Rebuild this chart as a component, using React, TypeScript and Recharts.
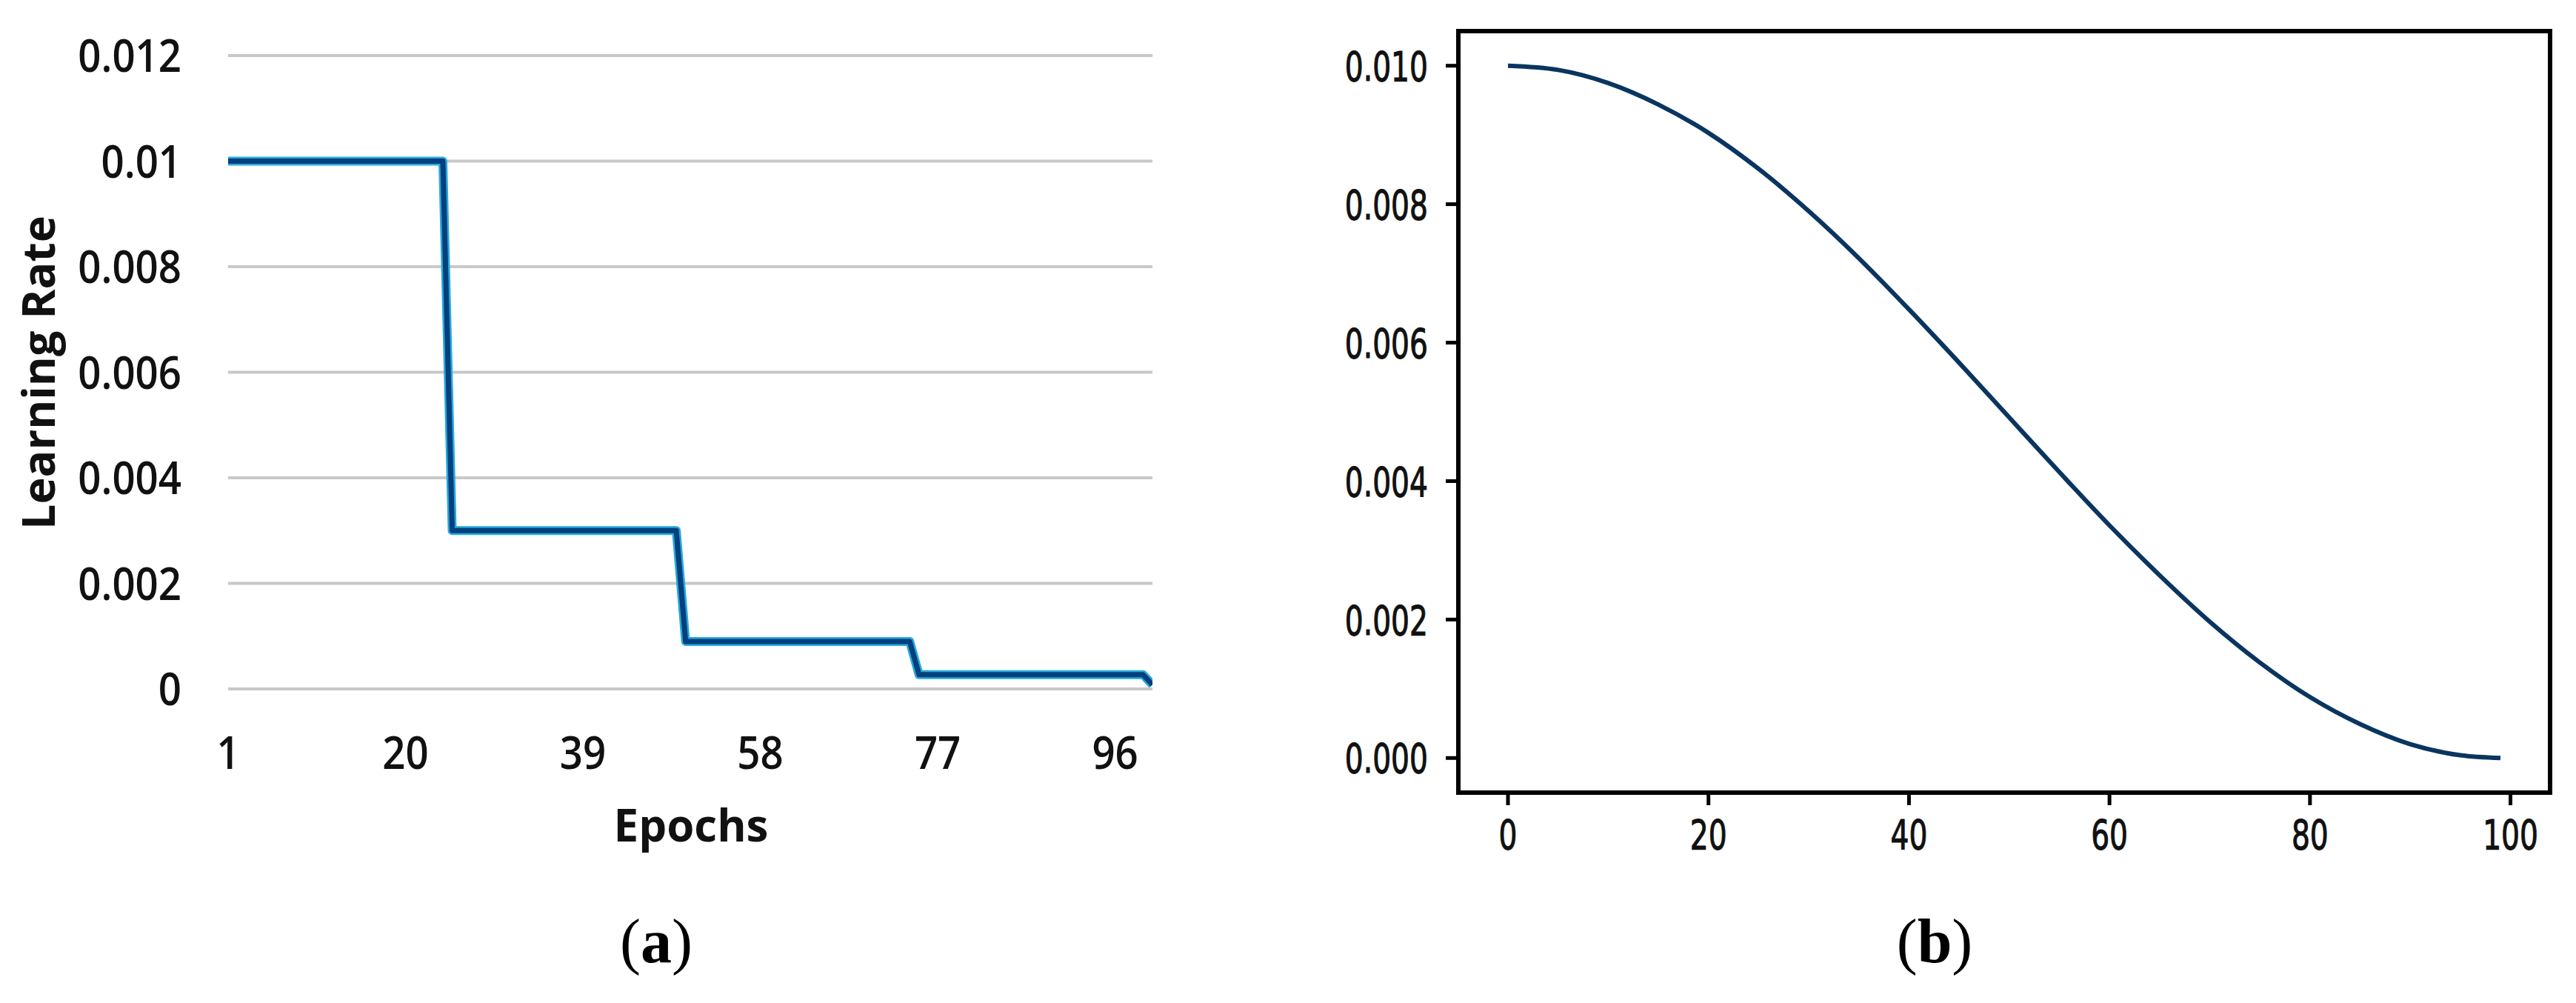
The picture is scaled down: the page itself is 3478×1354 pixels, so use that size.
import { CartesianGrid, Line, LineChart, XAxis, YAxis } from "recharts";

// (a) step decay schedule, break points
const stepEpochs = [1, 24, 25, 49, 50, 74, 75, 99, 100];
const stepRates = [0.01, 0.01, 0.003, 0.003, 0.0009, 0.0009, 0.00027, 0.00027, 0.00008];
const stepTicksX = [1, 20, 39, 58, 77, 96];
const stepTicksY = [0, 0.002, 0.004, 0.006, 0.008, 0.01, 0.012];

// (b) cosine annealing, sampled every 5 epochs
const cosEpochs = [0, 5, 10, 15, 20, 25, 30, 35, 40, 45, 50, 55, 60, 65, 70, 75, 80, 85, 90, 95, 99];
const cosRates = [
  0.01, 0.00994, 0.00975, 0.00944, 0.00903, 0.00851, 0.0079, 0.00722, 0.00648, 0.00571, 0.00492,
  0.00413, 0.00336, 0.00264, 0.00197, 0.00138, 0.00088, 0.00049, 0.0002, 0.00004, 0.0,
];
const cosTicksX = [0, 20, 40, 60, 80, 100];
const cosTicksY = [0, 0.002, 0.004, 0.006, 0.008, 0.01];

const stepData = stepEpochs.map((epoch, i) => ({ epoch, lr: stepRates[i] }));
const cosData = cosEpochs.map((epoch, i) => ({ epoch, lr: cosRates[i] }));

const SANS = "'Open Sans', 'Noto Sans', sans-serif";
const MPL = "'DejaVu Sans', sans-serif";
const SERIF = "'Liberation Serif', 'DejaVu Serif', serif";

interface TickProps {
  x?: number;
  y?: number;
  payload?: { value: number };
}

// tick text centred on (x, y), squeezed horizontally like the source figure
function makeTick(
  anchor: "start" | "middle" | "end",
  size: number,
  sx: number,
  family: string,
  weight: number,
  halo: number,
  fmt: (v: number) => string
) {
  return (props: TickProps) => {
    const { x = 0, y = 0, payload } = props;
    return (
      <text
        transform={`translate(${x},${y}) scale(${sx},1)`}
        x={0}
        y={size * 0.36}
        textAnchor={anchor}
        fontSize={size}
        fontFamily={family}
        fontWeight={weight}
        fill="#111"
        stroke={halo > 0 ? "#111" : "none"}
        strokeWidth={halo}
      >
        {fmt(payload ? payload.value : 0)}
      </text>
    );
  };
}

const spine = { stroke: "#000", strokeWidth: 6, strokeLinecap: "square" as const };

export default function App() {
  return (
    <div style={{ position: "absolute", left: 0, top: 0, width: 3478, height: 1354, background: "#fff", overflow: "hidden" }}>
      <div style={{ position: "absolute", left: 0, top: 0 }}>
        <LineChart width={1600} height={1200} data={stepData} margin={{ top: 75, right: 44, bottom: 210, left: 0 }}>
          <CartesianGrid vertical={false} stroke="#c8c8c8" strokeWidth={4} />
          <XAxis
            dataKey="epoch"
            type="number"
            domain={[1, 100]}
            ticks={stepTicksX}
            allowDataOverflow
            height={60}
            axisLine={false}
            tickLine={false}
            tickSize={0}
            tickMargin={86}
            tick={makeTick("middle", 62, 0.88, SANS, 600, 0, (v) => String(v))}
          />
          <YAxis
            type="number"
            domain={[0, 0.012]}
            ticks={stepTicksY}
            allowDataOverflow
            width={308}
            axisLine={false}
            tickLine={false}
            tickSize={0}
            tickMargin={63}
            tick={makeTick("end", 62, 0.88, SANS, 600, 0, (v) => String(v))}
          />
          <Line
            type="linear"
            dataKey="lr"
            stroke="#27a9dc"
            strokeWidth={12}
            strokeLinejoin="round"
            dot={false}
            isAnimationActive={false}
          />
          <Line
            type="linear"
            dataKey="lr"
            stroke="#03407e"
            strokeWidth={7}
            strokeLinejoin="round"
            dot={false}
            isAnimationActive={false}
          />
        </LineChart>
      </div>

      <div style={{ position: "absolute", left: 1700, top: 0 }}>
        <LineChart width={1778} height={1354} data={cosData} margin={{ top: 32, right: 25, bottom: 184, left: 69 }}>
          <XAxis
            dataKey="epoch"
            type="number"
            domain={[-4.95, 103.95]}
            ticks={cosTicksX}
            allowDataOverflow
            height={100}
            axisLine={spine}
            tickLine={{ stroke: "#000", strokeWidth: 5 }}
            tickSize={17}
            tickMargin={39}
            tick={makeTick("middle", 56, 0.7, MPL, 400, 1.2, (v) => String(v))}
          />
          <XAxis
            xAxisId="top"
            orientation="top"
            type="number"
            domain={[-4.95, 103.95]}
            allowDataOverflow
            height={10}
            axisLine={spine}
            tick={false}
            tickLine={false}
          />
          <YAxis
            type="number"
            domain={[-0.0005, 0.0105]}
            ticks={cosTicksY}
            allowDataOverflow
            width={200}
            axisLine={spine}
            tickLine={{ stroke: "#000", strokeWidth: 5 }}
            tickSize={17}
            tickMargin={24}
            tick={makeTick("end", 56, 0.7, MPL, 400, 1.2, (v) => v.toFixed(3))}
          />
          <YAxis
            yAxisId="right"
            orientation="right"
            type="number"
            domain={[-0.0005, 0.0105]}
            allowDataOverflow
            width={10}
            axisLine={spine}
            tick={false}
            tickLine={false}
          />
          <Line
            type="monotone"
            dataKey="lr"
            stroke="#0a3560"
            strokeWidth={6}
            dot={false}
            isAnimationActive={false}
          />
        </LineChart>
      </div>

      <svg width={3478} height={1354} style={{ position: "absolute", left: 0, top: 0, pointerEvents: "none" }}>
        <text x={933} y={1136} textAnchor="middle" fontSize={60} fontWeight="bold" fontFamily={SANS} fill="#111">
          Epochs
        </text>
        <text
          transform="translate(74,503) rotate(-90)"
          textAnchor="middle"
          fontSize={61}
          fontWeight="bold"
          fontFamily={SANS}
          fill="#111"
        >
          Learning Rate
        </text>
        <text x={886} y={1299} textAnchor="middle" fontSize={84} fontFamily={SERIF} fill="#000">
          (<tspan fontWeight="bold">a</tspan>)
        </text>
        <text x={2612} y={1299} textAnchor="middle" fontSize={84} fontFamily={SERIF} fill="#000">
          (<tspan fontWeight="bold">b</tspan>)
        </text>
      </svg>
    </div>
  );
}
